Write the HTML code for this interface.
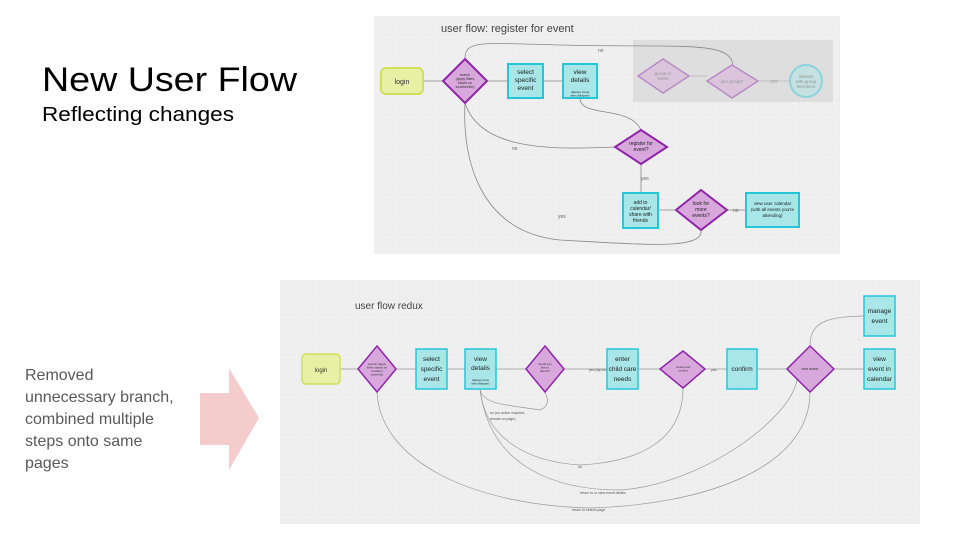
<!DOCTYPE html>
<html><head><meta charset="utf-8"><style>
html,body{margin:0;padding:0;background:#fff;}
svg{display:block;font-family:"Liberation Sans",sans-serif;}
</style></head><body>
<svg width="960" height="540" viewBox="0 0 960 540" xmlns="http://www.w3.org/2000/svg">
<defs>
<pattern id="grid" width="20" height="20" patternUnits="userSpaceOnUse"><path d="M20 0V20H0" fill="none" stroke="#e6e6e6" stroke-width="0.6"/></pattern>
</defs>
<text x="42" y="91" font-size="34" fill="#000" textLength="255" lengthAdjust="spacingAndGlyphs">New User Flow</text>
<text x="42" y="121" font-size="20" fill="#000" textLength="192" lengthAdjust="spacingAndGlyphs">Reflecting changes</text>
<g font-size="16" fill="#595959">
<text x="25" y="380">Removed</text>
<text x="25" y="402">unnecessary branch,</text>
<text x="25" y="424">combined multiple</text>
<text x="25" y="446">steps onto same</text>
<text x="25" y="468">pages</text>
</g>
<polygon points="200,393 229,393 229,368 259,418 229,470 229,445 200,445" fill="#f4cccc"/>

<!-- top panel -->
<rect x="374" y="16" width="466" height="238" fill="#efefef"/>
<rect x="374" y="16" width="466" height="238" fill="url(#grid)"/>
<text x="441" y="32" font-size="11" fill="#444">user flow: register for event</text>
<rect x="633" y="40" width="200" height="62" fill="#dedede"/>
<g fill="none" stroke="#888" stroke-width="0.8">
<path d="M423 81H443"/><path d="M486 81H508"/><path d="M543 81H563"/>
<path d="M465 59C465 40 480 43 560 45C680 48 730 40 733 65"/>
<path d="M580 98C580 118 630 105 641 130"/>
<path d="M615 147C550 150 480 150 465 103"/>
<path d="M641 163V193"/><path d="M658 210H676"/><path d="M727 210H746"/>
<path d="M701 229C705 250 650 245 560 240C480 232 462 160 465 103"/>
</g>
<g font-size="5" fill="#666"><text x="598" y="52">no</text><text x="512" y="150">no</text><text x="558" y="218">yes</text><text x="641" y="180">yes</text><text x="733" y="212">no</text><text x="770" y="83" fill="#aaa">yes</text></g>
<rect x="381" y="68" width="42" height="26" rx="5" fill="#e8f0a6" stroke="#cfe05a" stroke-width="2"/>
<text x="402" y="84" font-size="7" text-anchor="middle" fill="#333">login</text>
<polygon points="465,59 487,81 465,103 443,81" fill="#d8a8dc" stroke="#8e24aa" stroke-width="2"/>
<text x="465" y="76" font-size="3.5" text-anchor="middle" fill="#333">search<tspan x="465" dy="4">(apply filters</tspan><tspan x="465" dy="4">based on</tspan><tspan x="465" dy="4">location/etc)</tspan></text>
<g fill="#a8e6e8" stroke="#26c6da" stroke-width="2">
<rect x="508" y="64" width="35" height="34"/><rect x="563" y="64" width="34" height="34"/>
<rect x="623" y="193" width="35" height="35"/><rect x="746" y="193" width="53" height="34"/>
</g>
<g font-size="6.5" text-anchor="middle" fill="#222">
<text x="525.5" y="74">select<tspan x="525.5" dy="8">specific</tspan><tspan x="525.5" dy="8">event</tspan></text>
<text x="580" y="74">view<tspan x="580" dy="8">details</tspan></text>
<text x="580" y="93" font-size="3">(always come<tspan x="580" dy="3.5">with childcare)</tspan></text>
<text x="640.5" y="204" font-size="5">add to<tspan x="640.5" dy="6">calendar/</tspan><tspan x="640.5" dy="6">share with</tspan><tspan x="640.5" dy="6">friends</tspan></text>
<text x="772.5" y="205" font-size="4.5">view user calendar<tspan x="772.5" dy="6">(with all events you're</tspan><tspan x="772.5" dy="6">attending)</tspan></text>
</g>
<g opacity="0.45">
<polygon points="663,59 689,76 663,93 638,76" fill="#d8a8dc" stroke="#8e24aa" stroke-width="1.5"/>
<polygon points="732,65 758,81 732,98 707,81" fill="#d8a8dc" stroke="#8e24aa" stroke-width="1.5"/>
<circle cx="806" cy="81" r="16" fill="#a8e6e8" stroke="#26c6da" stroke-width="2"/>
<path d="M689 76H707M758 81H790" stroke="#888" stroke-width="0.8"/>
<g font-size="4.5" text-anchor="middle" fill="#333"><text x="663" y="75">group or<tspan x="663" dy="5">event</tspan></text><text x="732" y="83">join group?</text><text x="806" y="78">interact<tspan x="806" dy="5">with group</tspan><tspan x="806" dy="5">members</tspan></text></g>
</g>
<polygon points="641,130 667,147 641,164 615,147" fill="#d8a8dc" stroke="#8e24aa" stroke-width="2"/>
<text x="641" y="145" font-size="5" text-anchor="middle" fill="#222">register for<tspan x="641" dy="6">event?</tspan></text>
<polygon points="701,190 727,210 701,230 676,210" fill="#d8a8dc" stroke="#8e24aa" stroke-width="2"/>
<text x="701" y="205" font-size="5" text-anchor="middle" fill="#222">look for<tspan x="701" dy="6">more</tspan><tspan x="701" dy="6">events?</tspan></text>

<!-- bottom panel -->
<rect x="280" y="280" width="640" height="244" fill="#efefef"/>
<rect x="280" y="280" width="640" height="244" fill="url(#grid)"/>
<text x="355" y="309" font-size="10" fill="#444">user flow redux</text>
<g fill="none" stroke="#999" stroke-width="0.7">
<path d="M340 369H358M396 369H416M447 369H465M496 369H526M564 369H607M638 369H660M705 369H727M757 369H787M834 369H864"/>
<path d="M810 346C810 320 830 317 864 316"/>
<path d="M480 389C482 405 510 405 540 410C552 405 546 395 545 392"/>
<path d="M480 389C485 440 530 462 580 465C640 462 683 440 683 388"/>
<path d="M480 389C490 470 560 490 620 490C700 485 790 420 797 380"/>
<path d="M810 392C810 470 700 505 590 508C470 505 380 460 377 392"/>
</g>
<g font-size="3.5" fill="#555"><text x="589" y="371">yes (tap button)</text><text x="711" y="371">yes</text><text x="490" y="414">no (no action required,<tspan x="490" dy="6">remain on page)</tspan></text><text x="578" y="468">no</text><text x="580" y="494">return to or view event details</text><text x="572" y="511">return to search page</text></g>
<rect x="302" y="354" width="38" height="30" rx="4" fill="#e8f0a6" stroke="#cfe05a" stroke-width="1.5"/>
<text x="321" y="372" font-size="6" text-anchor="middle" fill="#333">login</text>
<g fill="#d8a8dc" stroke="#8e24aa" stroke-width="1.5">
<polygon points="377,346 396,369 377,392 358,369"/>
<polygon points="545,346 564,369 545,392 526,369"/>
<polygon points="683,351 705,369 683,388 660,369"/>
<polygon points="810,346 834,369 810,392 787,369"/>
</g>
<g fill="#a8e6e8" stroke="#26c6da" stroke-width="1.5">
<rect x="416" y="349" width="31" height="40"/><rect x="465" y="349" width="31" height="40"/>
<rect x="607" y="349" width="31" height="40"/><rect x="727" y="349" width="30" height="40"/>
<rect x="864" y="296" width="31" height="40"/><rect x="864" y="349" width="31" height="40"/>
</g>
<g font-size="6.5" text-anchor="middle" fill="#222">
<text x="431.5" y="361">select<tspan x="431.5" dy="10">specific</tspan><tspan x="431.5" dy="10">event</tspan></text>
<text x="480.5" y="361">view<tspan x="480.5" dy="9">details</tspan></text>
<text x="480.5" y="381" font-size="2.8">(always come<tspan x="480.5" dy="3.5">with childcare)</tspan></text>
<text x="622.5" y="361">enter<tspan x="622.5" dy="10">child care</tspan><tspan x="622.5" dy="10">needs</tspan></text>
<text x="742" y="371">confirm</text>
<text x="879.5" y="313">manage<tspan x="879.5" dy="10">event</tspan></text>
<text x="879.5" y="361">view<tspan x="879.5" dy="10">event in</tspan><tspan x="879.5" dy="10">calendar</tspan></text>
</g>
<g font-size="3" text-anchor="middle" fill="#333">
<text x="377" y="365">search (apply<tspan x="377" dy="3.5">filters based on</tspan><tspan x="377" dy="3.5">location/</tspan><tspan x="377" dy="3.5">interests)</tspan></text>
<text x="545" y="365">would you<tspan x="545" dy="3.5">like to</tspan><tspan x="545" dy="3.5">attend?</tspan></text>
<text x="683" y="368">review and<tspan x="683" dy="3.5">confirm</tspan></text>
<text x="810" y="370" font-size="3.5">next action</text>
</g>
</svg>
</body></html>
